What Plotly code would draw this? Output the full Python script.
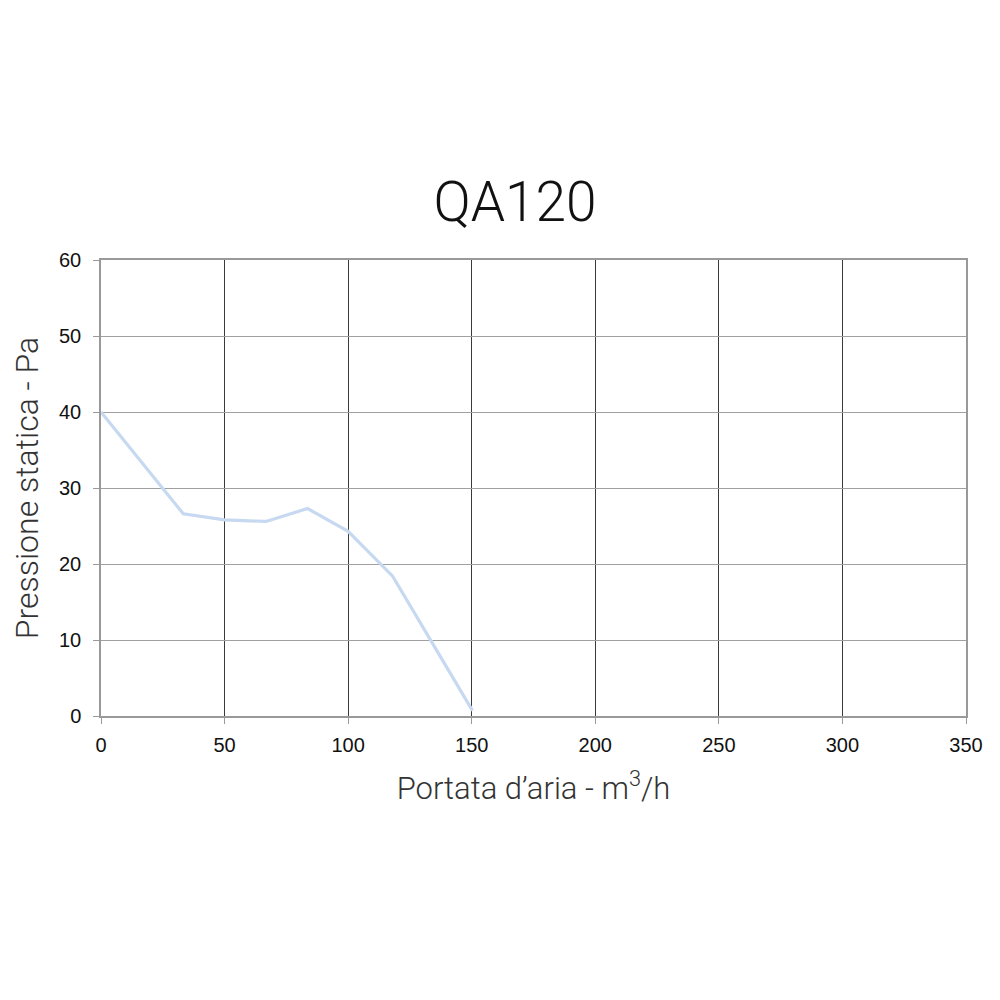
import plotly.graph_objects as go

flow = [0, 33.3, 50, 66.8, 83.6, 100, 118, 150.3]
pressure = [40, 26.6, 25.8, 25.6, 27.3, 24.3, 18.4, 0.7]

x_ticks = [0, 50, 100, 150, 200, 250, 300, 350]
y_ticks = [0, 10, 20, 30, 40, 50, 60]

fig = go.Figure()
fig.add_trace(go.Scatter(x=flow, y=pressure, mode="lines",
                         line=dict(color="#c6d9f0", width=3.2),
                         showlegend=False, hoverinfo="skip"))

tick_font = dict(family="Liberation Sans, Arial, sans-serif", size=20, color="#111111")
light_font = "Roboto, Lato, Inter, sans-serif"

fig.update_layout(
    width=1000, height=1000,
    paper_bgcolor="white", plot_bgcolor="white",
    margin=dict(l=93, r=42, t=252, b=292),
    title=dict(text="QA120", x=0.507, xanchor="center", y=1 - 194/1000, yanchor="middle",
               font=dict(family=light_font, size=55, color="#111111", weight=300)),
    xaxis=dict(range=[0, 350], tickvals=x_ticks, ticktext=[str(v) for v in x_ticks],
               showgrid=True, gridcolor="#3a3a3a", gridwidth=1,
               showline=True, linecolor="#999999", linewidth=1.5, mirror=True,
               ticks="outside", ticklen=6, tickcolor="#999999",
               tickfont=tick_font, zeroline=False, ticklabelstandoff=4,
               title=dict(text="Portata d’aria - m<sup>3</sup>/h", standoff=23,
                          font=dict(family=light_font, size=31, color="#333333", weight=300))),
    yaxis=dict(range=[0, 60], tickvals=y_ticks, ticktext=[str(v) for v in y_ticks],
               showgrid=True, gridcolor="#a0a0a0", gridwidth=1,
               showline=True, linecolor="#999999", linewidth=1.5, mirror=True,
               ticks="outside", ticklen=6, tickcolor="#999999",
               tickfont=tick_font, zeroline=False, ticklabelstandoff=8,
               title=dict(text="Pressione statica - Pa", standoff=14,
                          font=dict(family=light_font, size=32, color="#333333", weight=300))),
)

fig.write_html("out.html")
